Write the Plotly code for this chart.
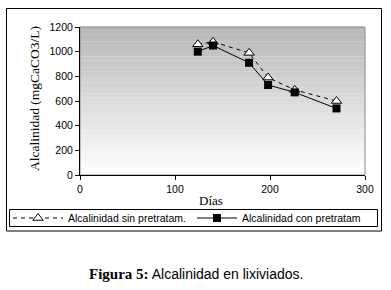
import plotly.graph_objects as go

dias = [124, 140, 178, 198, 226, 270]
sin_pretrat = [1060, 1080, 990, 790, 690, 600]
con_pretrat = [1000, 1050, 910, 730, 670, 540]
x_ticks = [0, 100, 200, 300]
y_ticks = [0, 200, 400, 600, 800, 1000, 1200]

W, H = 391, 290
L, R, T, B = 80, 26, 27, 115
pw, ph = W - L - R, H - T - B

def px_x(p):
    return (p - L) / pw

def px_y(p):
    return (H - B - p) / ph

fig = go.Figure()
fig.add_trace(go.Scatter(
    x=dias, y=sin_pretrat, mode="lines+markers",
    name="Alcalinidad sin pretratam.", legend="legend",
    line=dict(color="black", width=1, dash="4px,4px"),
    marker=dict(symbol="triangle-up", size=9, color="white",
                line=dict(color="black", width=1)),
))
fig.add_trace(go.Scatter(
    x=dias, y=con_pretrat, mode="lines+markers",
    name="Alcalinidad con pretratam", legend="legend2",
    line=dict(color="black", width=1),
    marker=dict(symbol="square", size=8, color="black",
                line=dict(color="black", width=0)),
))

shapes = []
N = 40
for i in range(N):
    f = i / N
    c = int(182 + (255 - 182) * (1 - f) ** 1.0)
    shapes.append(dict(type="rect", xref="x domain", yref="y domain",
                       x0=0, x1=1, y0=f, y1=(i + 1) / N + 0.001,
                       fillcolor=f"rgb({c},{c},{c})", line=dict(width=0),
                       layer="below"))
shapes.append(dict(type="rect", xref="x domain", yref="y domain",
                   x0=0, x1=1, y0=0, y1=1, line=dict(color="#8a8a8a", width=1),
                   layer="below"))
# outer chart frame
shapes.append(dict(type="rect", xref="paper", yref="paper",
                   x0=px_x(6.5), x1=px_x(381.5), y0=px_y(231), y1=px_y(8.5),
                   line=dict(color="black", width=1), layer="below"))
# legend frame
shapes.append(dict(type="rect", xref="paper", yref="paper",
                   x0=px_x(9.5), x1=px_x(377.5), y0=px_y(226.5), y1=px_y(209.5),
                   line=dict(color="black", width=1), layer="below"))

serif = "Liberation Serif"
sans = "Liberation Sans"

def leg(x, iw):
    return dict(orientation="h", xref="container", yref="container",
                x=x / W, y=1 - 218 / H,
                xanchor="left", yanchor="middle",
                borderwidth=0, bgcolor="rgba(0,0,0,0)",
                font=dict(family=sans, size=10.5, color="black"),
                itemwidth=iw)

fig.update_layout(
    width=W, height=H,
    margin=dict(l=L, r=R, t=T, b=B, autoexpand=False),
    paper_bgcolor="white", plot_bgcolor="white",
    shapes=shapes,
    showlegend=True,
    legend=leg(8, 50),
    legend2=leg(192, 40),
    xaxis=dict(range=[0, 300], tickvals=x_ticks, showgrid=False, zeroline=False,
               showline=True, linecolor="black", linewidth=1,
               ticks="outside", ticklen=4, tickcolor="black",
               tickfont=dict(family=sans, size=10.5, color="black")),
    yaxis=dict(range=[0, 1200], tickvals=y_ticks, showgrid=False, zeroline=False,
               showline=True, linecolor="black", linewidth=1,
               ticks="outside", ticklen=4, tickcolor="black",
               tickfont=dict(family=sans, size=10.5, color="black")),
    annotations=[
        dict(text="Días", xref="paper", yref="paper", x=px_x(211), y=px_y(200),
             showarrow=False, font=dict(family=serif, size=13, color="black"),
             xanchor="center", yanchor="middle"),
        dict(text="Alcalinidad (mgCaCO3/L)", xref="paper", yref="paper",
             x=px_x(34), y=px_y(99), textangle=-90, showarrow=False,
             font=dict(family=serif, size=13.5, color="black"),
             xanchor="center", yanchor="middle"),
        dict(text="<span style='font-family:Liberation Serif;font-weight:bold;font-size:15px'>Figura 5:</span> Alcalinidad en lixiviados.",
             xref="paper", yref="paper", x=px_x(196), y=px_y(274),
             showarrow=False, font=dict(family=sans, size=14, color="black"),
             xanchor="center", yanchor="middle"),
    ],
)

fig.write_html("out.html", config={"displayModeBar": False},
               post_script="document.body.style.margin='0';")
